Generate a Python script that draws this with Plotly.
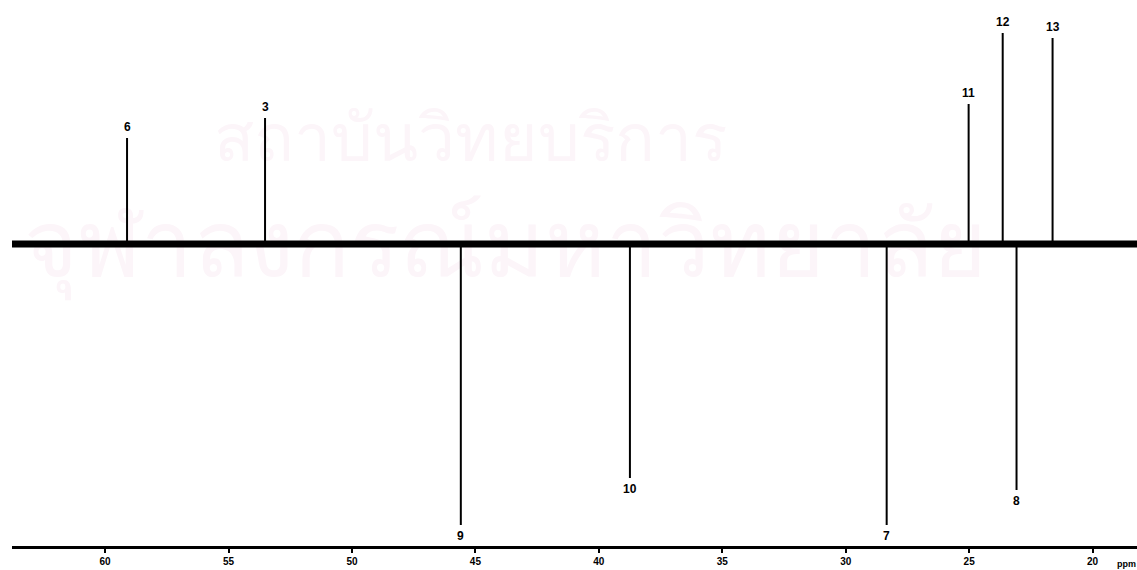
import plotly.graph_objects as go

# ---- data ----
peak_labels = ["6", "3", "9", "10", "7", "11", "12", "8", "13"]
peak_ppm = [59.11, 53.52, 45.59, 38.74, 28.34, 25.02, 23.64, 23.08, 21.62]
peak_height = [106, 126, -281, -234, -281, 140, 211, -246, 206]
baseline_ppm = [63.8, 18.2]
tick_vals = [60, 55, 50, 45, 40, 35, 30, 25, 20]
tick_text = ["60", "55", "50", "45", "40", "35", "30", "25", "20"]
watermark_lines = ["สถาบันวิทยบริการ", "จุฬาลงกรณ์มหาวิทยาลัย"]
watermark_ppm = [45.2, 43.8]
watermark_y = [100, -9]
watermark_size = [66, 92]

# ---- build stick spectrum ----
xs, ys = [], []
for p, h in zip(peak_ppm, peak_height):
    xs += [p, p, None]
    ys += [0, h, None]

fig = go.Figure()
# faint watermark (drawn first so it sits under the spectrum)
for txt, px, py, sz in zip(watermark_lines, watermark_ppm, watermark_y, watermark_size):
    fig.add_trace(go.Scatter(x=[px], y=[py], mode="text", text=[txt],
                             textposition="middle center",
                             textfont=dict(size=sz, color="#fcf5f9"),
                             hoverinfo="skip"))
# noisy baseline band
fig.add_trace(go.Scatter(x=baseline_ppm, y=[0, 0], mode="lines",
                         line=dict(color="black", width=7), hoverinfo="skip"))
# peaks
fig.add_trace(go.Scatter(x=xs, y=ys, mode="lines",
                         line=dict(color="black", width=2), hoverinfo="skip"))

annotations = []
for lab, p, h in zip(peak_labels, peak_ppm, peak_height):
    annotations.append(dict(
        x=p, y=h, xref="x", yref="y", text="<b>" + lab + "</b>",
        showarrow=False, yanchor="bottom" if h > 0 else "top",
        yshift=2 if h > 0 else -2,
        font=dict(family="Liberation Sans", size=12, color="black")))

# ppm unit label at right end of axis
annotations.append(dict(x=1.0, y=0, xref="paper", yref="paper", text="<b>ppm</b>",
                        showarrow=False, xanchor="left", yanchor="top",
                        xshift=-22, yshift=-11,
                        font=dict(family="Liberation Sans", size=9, color="black")))

fig.update_layout(
    width=1137, height=570,
    margin=dict(l=12, r=0, t=0, b=24),
    paper_bgcolor="white", plot_bgcolor="white",
    showlegend=False,
    annotations=annotations,
    xaxis=dict(range=[63.77, 18.2], showgrid=False, zeroline=False,
               showline=True, linecolor="black", linewidth=3,
               ticks="outside", ticklen=4, tickwidth=2, tickcolor="black",
               tickvals=tick_vals, ticktext=["<b>" + t + "</b>" for t in tick_text],
               tickfont=dict(family="Liberation Sans", size=10, color="black")),
    yaxis=dict(range=[-302, 244], visible=False, showgrid=False, zeroline=False),
)

fig.write_html("out.html", config={"displayModeBar": False},
               post_script="document.body.style.margin='0';")
